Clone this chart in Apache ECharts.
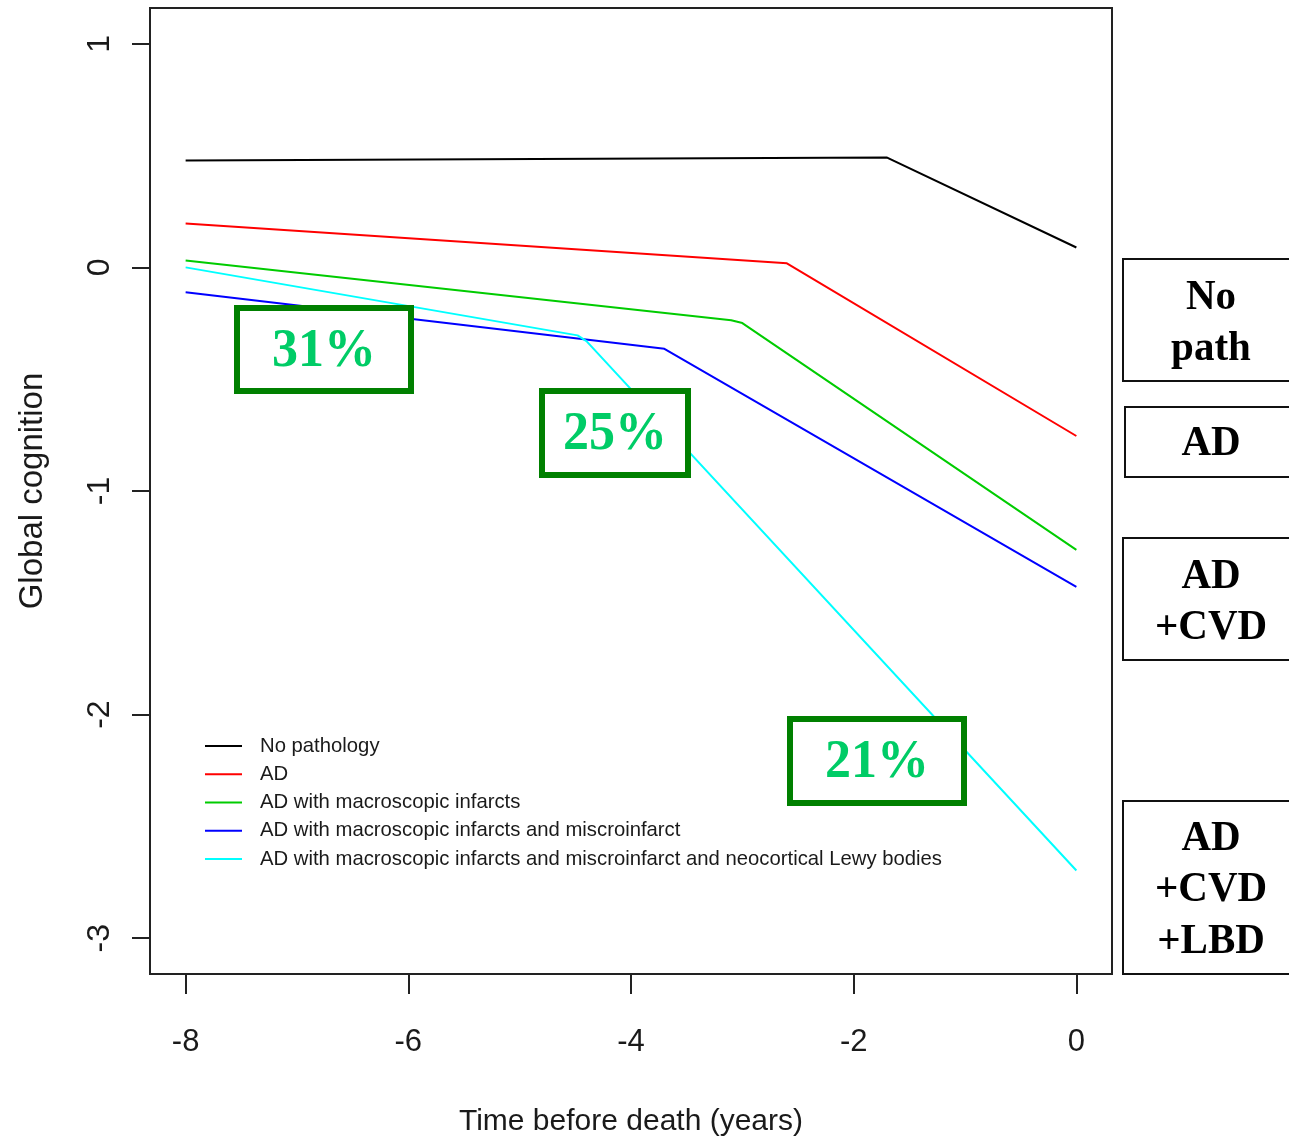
<!DOCTYPE html>
<html>
<head>
<meta charset="utf-8">
<script src="https://cdn.jsdelivr.net/npm/echarts@6/dist/echarts.min.js"></script>
<style>
  html, body { margin: 0; padding: 0; background: #fff; }
  #chart { width: 1289px; height: 1139px; }
</style>
</head>
<body>
<div id="chart"></div>
<script>
// Estimated global cognition trajectories (knot points of each fitted path)
const noPathTime = [-8, -1.7, 0];
const noPathValue = [0.478, 0.491, 0.089];

const adTime = [-8, -2.6, 0];
const adValue = [0.196, 0.018, -0.754];

const adMacroTime = [-8, -3.1, -3.0, 0];
const adMacroValue = [0.031, -0.236, -0.249, -1.263];

const adMicroTime = [-8, -3.7, 0];
const adMicroValue = [-0.111, -0.364, -1.429];

const adLewyTime = [-8, -4.48, -4.4, 0];
const adLewyValue = [0.0, -0.304, -0.33, -2.697];

const seriesNames = [
  'No pathology',
  'AD',
  'AD with macroscopic infarcts',
  'AD with macroscopic infarcts and miscroinfarct',
  'AD with macroscopic infarcts and miscroinfarct and neocortical Lewy bodies'
];
const seriesColors = ['#000000', '#ff0000', '#00cc00', '#0000ff', '#00ffff'];

const xTicks = [-8, -6, -4, -2, 0];
const yTicks = [-3, -2, -1, 0, 1];

const percentLabels = ['31%', '25%', '21%'];
const groupLabels = [['No', 'path'], ['AD'], ['AD', '+CVD'], ['AD', '+CVD', '+LBD']];

function pairs(t, v) { return t.map((x, i) => [x, v[i]]); }
const curves = [
  pairs(noPathTime, noPathValue),
  pairs(adTime, adValue),
  pairs(adMacroTime, adMacroValue),
  pairs(adMicroTime, adMicroValue),
  pairs(adLewyTime, adLewyValue)
];

const sans = 'Liberation Sans, Arial, sans-serif';
const serif = 'Liberation Serif, Times New Roman, serif';
const ink = '#1a1a1a';

// Percent call-outs (white boxes with green frame)
const pctBoxes = [
  { x: 237, y: 308, w: 174, h: 83 },
  { x: 542, y: 391, w: 146, h: 84 },
  { x: 790, y: 719, w: 174, h: 84 }
];
// Pathology group boxes on the right margin
const grpBoxes = [
  { y: 259, h: 122, x: 1123, lines: [298, 349] },
  { y: 407, h: 70, x: 1125, lines: [444] },
  { y: 538, h: 122, x: 1123, lines: [577, 628] },
  { y: 801, h: 173, x: 1123, lines: [839, 890, 942] }
];

const graphics = [];
pctBoxes.forEach((b, i) => {
  graphics.push({
    type: 'rect', z: 100,
    shape: { x: b.x, y: b.y, width: b.w, height: b.h },
    style: { fill: '#ffffff', stroke: '#008000', lineWidth: 6 }
  });
  graphics.push({
    type: 'text', z: 101,
    x: b.x + b.w / 2, y: b.y + b.h / 2 + 2,
    scaleY: 1.06,
    style: {
      text: percentLabels[i], fill: '#00cc66',
      font: 'bold 52px ' + serif, align: 'center', verticalAlign: 'middle'
    }
  });
});
grpBoxes.forEach((b, i) => {
  graphics.push({
    type: 'rect', z: 100,
    shape: { x: b.x, y: b.y, width: 220, height: b.h },
    style: { fill: '#ffffff', stroke: '#111', lineWidth: 2 }
  });
  groupLabels[i].forEach((t, j) => {
    graphics.push({
      type: 'text', z: 101,
      x: 1211, y: b.lines[j],
      scaleY: 1.05,
      style: {
        text: t, fill: '#000',
        font: 'bold 41px ' + serif, align: 'center', verticalAlign: 'middle'
      }
    });
  });
});

const chart = echarts.init(document.getElementById('chart'), null, { renderer: 'canvas' });
chart.setOption({
  animation: false,
  backgroundColor: '#ffffff',
  grid: {
    left: 150, top: 8, width: 962, height: 966,
    outerBoundsMode: 'none', containLabel: false,
    show: true, borderColor: '#222', borderWidth: 2, backgroundColor: 'transparent'
  },
  xAxis: {
    type: 'value', min: -8.32, max: 0.32,
    name: 'Time before death (years)', nameLocation: 'middle', nameGap: 133,
    nameTextStyle: { fontFamily: sans, fontSize: 30, color: ink },
    axisLine: { show: false, onZero: false },
    splitLine: { show: false },
    axisTick: { show: true, inside: false, length: 20, customValues: xTicks,
      lineStyle: { color: '#222', width: 2 } },
    axisLabel: { customValues: xTicks, margin: 53, fontFamily: sans, fontSize: 31, color: ink,
      formatter: v => String(v) }
  },
  yAxis: {
    type: 'value', min: -3.16, max: 1.16,
    name: 'Global cognition', nameLocation: 'middle', nameGap: 101,
    nameTextStyle: { fontFamily: sans, fontSize: 33, color: ink },
    axisLine: { show: false, onZero: false },
    splitLine: { show: false },
    axisTick: { show: true, inside: false, length: 18, customValues: yTicks,
      lineStyle: { color: '#222', width: 2 } },
    axisLabel: { customValues: yTicks, rotate: 90, margin: 34, fontFamily: sans, fontSize: 32, color: ink,
      formatter: v => String(v) }
  },
  legend: {
    orient: 'vertical', left: 205, top: 734, padding: 0,
    itemWidth: 37, itemHeight: 14, itemGap: 4.25,
    icon: 'path://M0,6 L37,6 L37,8 L0,8 Z',
    data: seriesNames,
    textStyle: { fontFamily: sans, fontSize: 20.3, color: ink, lineHeight: 24, padding: [0, 0, 0, 13] }
  },
  series: curves.map((d, i) => ({
    name: seriesNames[i], type: 'line', data: d,
    symbol: 'none', showSymbol: false,
    lineStyle: { color: seriesColors[i], width: 2 },
    itemStyle: { color: seriesColors[i] },
    z: 2
  })),
  graphic: graphics
});
</script>
</body>
</html>
